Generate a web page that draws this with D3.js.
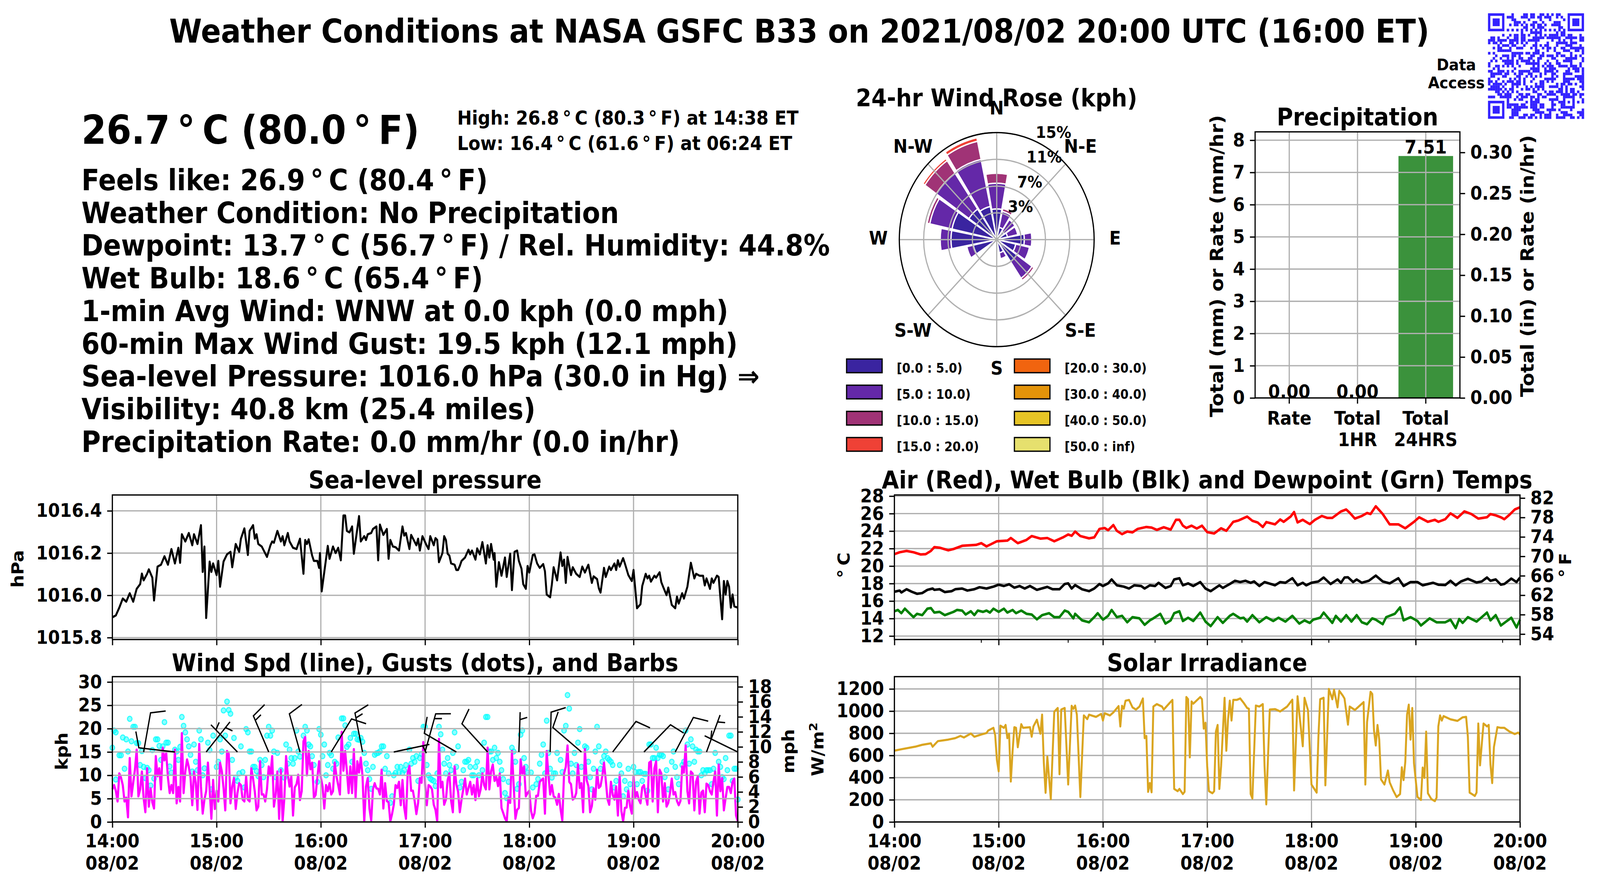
<!DOCTYPE html>
<html>
<head>
<meta charset="utf-8">
<script src="https://cdn.jsdelivr.net/npm/d3@7"></script>
<style>
  html, body { margin: 0; background: #fff; overflow: hidden; }
  text { font-family: "DejaVu Sans"; font-weight: bold; fill: #000; }
</style>
</head>
<body>
<div id="chart"></div>
<script>
// ---- values ----
const infoLines = [
  "Feels like: 26.9\u2009°\u2009C (80.4\u2009°\u2009F)",
  "Weather Condition: No Precipitation",
  "Dewpoint: 13.7\u2009°\u2009C (56.7\u2009°\u2009F) / Rel. Humidity: 44.8%",
  "Wet Bulb: 18.6\u2009°\u2009C (65.4\u2009°\u2009F)",
  "1-min Avg Wind: WNW at 0.0 kph (0.0 mph)",
  "60-min Max Wind Gust: 19.5 kph (12.1 mph)",
  "Sea-level Pressure: 1016.0 hPa (30.0 in Hg) ⇒",
  "Visibility: 40.8 km (25.4 miles)",
  "Precipitation Rate: 0.0 mm/hr (0.0 in/hr)"
];

const hourMinutes = [0, 60, 120, 180, 240, 300, 360];
const hourLabels = ["14:00", "15:00", "16:00", "17:00", "18:00", "19:00", "20:00"];
const tempMinorMinutes = [50, 100, 150, 200, 250, 300, 350];

const pressureTicks = [1015.8, 1016.0, 1016.2, 1016.4];
const windTicks = [0, 5, 10, 15, 20, 25, 30];
const mphTicks = [0, 2, 4, 6, 8, 10, 12, 14, 16, 18];
const tempTicks = [12, 14, 16, 18, 20, 22, 24, 26, 28];
const tempFTicks = [54, 58, 62, 66, 70, 74, 78, 82];
const solarTicks = [0, 200, 400, 600, 800, 1000, 1200];
const precipTicks = [0, 1, 2, 3, 4, 5, 6, 7, 8];
const precipInTicks = [0, 0.05, 0.10, 0.15, 0.20, 0.25, 0.30];

// [minute after 14:00, hPa]
const pressure = [[0,1015.896],[2,1015.905],[4,1015.942],[6,1015.985],[8,1015.97],[10,1016.01],[12,1015.97],[14,1016.031],[16,1016.053],[17,1016.103],[18,1016.071],[20,1016.102],[21,1016.123],[23,1016.084],[24,1015.976],[26,1016.136],[28,1016.145],[30,1016.185],[32,1016.145],[34,1016.219],[36,1016.151],[38,1016.225],[39,1016.154],[40,1016.289],[42,1016.255],[44,1016.295],[46,1016.237],[47,1016.289],[49,1016.243],[51,1016.332],[52,1016.111],[53,1016.231],[54,1015.893],[56,1016.16],[57,1016.111],[58,1016.151],[60,1016.096],[61,1016.163],[62,1016.041],[64,1016.16],[66,1016.194],[68,1016.206],[69,1016.133],[71,1016.243],[73,1016.206],[74,1016.268],[76,1016.317],[78,1016.191],[79,1016.305],[81,1016.332],[82,1016.268],[83,1016.289],[84,1016.243],[86,1016.231],[89,1016.182],[91,1016.237],[92,1016.255],[93,1016.249],[95,1016.305],[97,1016.255],[98,1016.28],[99,1016.237],[101,1016.295],[102,1016.255],[104,1016.225],[106,1016.219],[108,1016.268],[110,1016.102],[111,1016.262],[112,1016.243],[113,1016.265],[115,1016.188],[116,1016.163],[118,1016.163],[119,1016.13],[119.5,1016.2],[120.5,1016.019],[122,1016.111],[124,1016.234],[125,1016.173],[127,1016.231],[128.5,1016.2],[130,1016.225],[131.5,1016.166],[133,1016.378],[134,1016.378],[135,1016.305],[136.5,1016.298],[138,1016.326],[139,1016.197],[142,1016.375],[143,1016.255],[145,1016.28],[146,1016.262],[147,1016.289],[149,1016.295],[150,1016.314],[152,1016.326],[153,1016.166],[154,1016.335],[156,1016.286],[158,1016.314],[159,1016.173],[160,1016.262],[161.5,1016.231],[163,1016.228],[165,1016.212],[167,1016.326],[168,1016.283],[169,1016.295],[171,1016.219],[172,1016.286],[175,1016.237],[176,1016.268],[177,1016.212],[178.5,1016.28],[180.5,1016.243],[182,1016.219],[183,1016.28],[185,1016.237],[186,1016.271],[187,1016.262],[188,1016.157],[190,1016.2],[191,1016.28],[192,1016.262],[193,1016.197],[194,1016.188],[195,1016.151],[197,1016.145],[198,1016.12],[199,1016.12],[200,1016.139],[201,1016.163],[203,1016.179],[205,1016.216],[206,1016.194],[207,1016.212],[209,1016.169],[210,1016.222],[211.5,1016.194],[213,1016.252],[215,1016.151],[216,1016.237],[217,1016.179],[218,1016.243],[219.5,1016.169],[220,1016.2],[221,1016.041],[222.5,1016.157],[224,1016.093],[226,1016.179],[227,1016.087],[229,1016.197],[230,1016.025],[231.5,1016.206],[233,1016.212],[234,1016.163],[235.5,1016.126],[236.5,1016.053],[238,1016.031],[239,1016.139],[240,1016.108],[242,1016.191],[243,1016.194],[244.5,1016.151],[246,1016.13],[248,1016.148],[249,1016.114],[250,1016.004],[252,1015.991],[253,1016.053],[254,1016.133],[256,1016.071],[258,1016.203],[259,1016.139],[260,1016.169],[261,1016.059],[262,1016.182],[264,1016.096],[265,1016.133],[267,1016.102],[269,1016.087],[270.5,1016.136],[272,1016.108],[274,1016.145],[276,1016.059],[277,1016.09],[279,1016.077],[280,1016.034],[281,1016.013],[283,1016.13],[284,1016.087],[286,1016.136],[287,1016.12],[289,1016.151],[290,1016.12],[291,1016.166],[292,1016.136],[294,1016.176],[295,1016.151],[297,1016.096],[299,1016.068],[300,1016.12],[302,1015.939],[304,1015.958],[305,1016.044],[307,1016.102],[308,1016.08],[309,1016.093],[310,1016.065],[312,1016.093],[313,1016.084],[315,1016.109],[316,1016.062],[317,1016.041],[319,1016.001],[320,1016.037],[322,1015.955],[324,1015.939],[325,1015.994],[326,1015.961],[328,1016.01],[329,1015.985],[331,1016.041],[333,1016.154],[335,1016.08],[336,1016.102],[338,1016.093],[340,1016.093],[341,1016.047],[342,1016.08],[344,1016.031],[345,1016.08],[346,1016.059],[348,1016.093],[349,1016.087],[351,1015.887],[352,1016.068],[353,1016.004],[354,1016.068],[355,1016.041],[356,1015.942],[357,1016.004],[358,1015.948],[360,1015.942]];

// [minute, deg C]
const airTemp = [[0,21.36],[3,21.58],[7,21.73],[11,21.58],[15,21.33],[18,21.36],[21,21.73],[23,22.17],[26,22.10],[31,21.80],[34,21.95],[39,22.32],[47,22.42],[50,22.62],[53,22.25],[56,22.54],[59,22.84],[65,22.91],[67,23.21],[71,22.62],[76,22.99],[79,23.43],[84,23.14],[88,23.21],[92,22.84],[97,23.28],[100,23.61],[102,23.46],[104,23.95],[107,23.43],[112,23.17],[115,23.28],[118,24.25],[121,24.35],[123,24.10],[126,24.69],[128,24.03],[131,23.65],[134,23.95],[137,23.85],[140,24.25],[145,24.47],[148,24.40],[151,24.14],[155,24.44],[159,24.17],[162,25.29],[164,25.29],[166,24.62],[168,24.35],[171,24.62],[174,24.29],[177,24.62],[180,23.88],[184,23.73],[188,24.32],[191,24.03],[195,25.06],[198,25.21],[203,25.66],[206,25.18],[209,24.99],[212,24.47],[214,25.03],[219,24.77],[222,25.33],[224,25.06],[228,25.66],[230,26.18],[232,24.99],[235,25.29],[239,24.80],[242,25.29],[246,25.73],[249,25.51],[252,25.51],[257,26.25],[260,26.47],[262,26.10],[265,25.43],[269,25.73],[272,26.07],[274,25.95],[277,26.84],[281,25.95],[285,24.77],[290,24.77],[294,24.32],[299,25.06],[302,25.58],[307,25.06],[311,25.29],[313,25.06],[317,25.36],[320,26.03],[324,25.51],[328,26.25],[332,25.95],[336,25.43],[341,25.58],[343,25.95],[346,25.80],[349,25.58],[351,25.36],[354,25.88],[357,26.47],[360,26.72]];
const wetBulb = [[0,17.06],[3,17.20],[4,16.98],[7,17.35],[10,17.06],[13,16.83],[16,16.91],[19,17.28],[22,17.43],[23,17.28],[26,17.35],[29,17.03],[33,17.13],[35,17.35],[39,17.43],[42,17.20],[46,17.35],[49,17.58],[53,17.43],[57,17.65],[60,17.87],[63,17.72],[66,17.92],[69,17.53],[72,17.72],[75,17.43],[78,17.72],[82,17.28],[88,17.62],[91,17.35],[95,17.35],[98,17.95],[100,18.02],[102,17.43],[104,17.83],[108,17.35],[112,17.13],[115,17.43],[118,17.95],[120,17.72],[123,18.02],[125,18.47],[128,17.80],[132,17.65],[135,17.43],[138,17.80],[142,17.72],[144,17.43],[147,17.80],[150,17.72],[152,18.09],[156,17.50],[159,17.72],[161,18.47],[164,18.61],[166,17.80],[169,18.02],[172,17.72],[176,18.17],[179,17.43],[182,17.13],[187,17.80],[189,17.50],[193,17.95],[196,18.32],[199,18.17],[202,18.32],[205,18.09],[207,18.24],[210,17.72],[213,18.17],[219,17.80],[222,18.17],[225,18.09],[229,18.61],[232,17.80],[235,18.09],[237,17.80],[240,18.09],[244,18.24],[247,18.69],[251,17.95],[255,18.47],[257,18.09],[259,18.69],[261,18.72],[264,18.17],[266,18.47],[269,18.09],[273,18.32],[277,18.91],[281,18.24],[285,18.02],[290,18.61],[293,17.72],[297,18.17],[301,18.17],[304,17.80],[310,18.09],[313,17.87],[317,17.83],[320,18.32],[323,17.80],[326,18.24],[330,18.54],[335,18.12],[338,18.24],[341,18.69],[343,18.32],[346,18.47],[349,17.87],[351,17.95],[355,18.57],[358,18.17],[360,18.69]];
const dewPoint = [[0,14.83],[2,14.98],[4,14.61],[6,15.13],[9,14.54],[11,14.16],[13,14.54],[16,14.39],[19,15.13],[21,15.20],[23,14.68],[26,14.76],[29,14.39],[34,14.76],[36,14.98],[39,14.91],[41,14.46],[44,14.83],[46,14.39],[48,14.91],[51,14.76],[53,14.91],[55,14.68],[57,15.13],[60,14.76],[63,15.13],[65,14.68],[68,14.98],[70,14.61],[73,14.91],[76,14.54],[79,14.46],[82,13.91],[85,14.39],[89,14.61],[92,14.16],[95,14.16],[98,14.91],[100,14.76],[103,14.02],[104,14.54],[108,13.79],[112,13.57],[115,14.16],[117,14.61],[120,13.87],[123,14.31],[125,14.98],[128,14.16],[131,14.31],[134,13.57],[137,14.16],[141,14.02],[144,13.28],[147,13.79],[149,14.02],[153,14.54],[156,13.42],[159,13.79],[161,14.61],[164,14.83],[166,13.72],[169,14.09],[172,13.72],[176,14.68],[179,13.65],[182,13.13],[186,14.16],[189,13.50],[193,14.31],[195,14.54],[199,14.02],[201,14.09],[203,13.65],[206,14.39],[210,13.57],[214,14.16],[218,13.72],[221,14.09],[225,13.65],[229,14.31],[233,13.42],[236,13.79],[239,13.50],[241,13.87],[245,14.09],[247,14.68],[252,13.50],[254,14.31],[257,13.65],[260,14.39],[263,13.65],[266,14.39],[269,13.57],[272,13.35],[275,14.02],[277,13.87],[281,13.35],[283,14.16],[288,14.54],[291,15.28],[293,13.79],[297,14.16],[301,13.72],[303,13.20],[308,14.02],[312,13.57],[317,13.57],[320,13.87],[323,12.90],[325,13.94],[327,13.50],[330,14.16],[335,13.65],[338,14.16],[341,14.68],[343,13.79],[346,14.39],[349,13.20],[352,13.65],[355,14.09],[358,12.98],[360,13.87]];

// [minute, W/m2]
const solar = [[0,643],[4,656],[12,679],[16,696],[21,709],[22,679],[25,729],[31,743],[35,756],[38,776],[40,762],[44,798],[46,769],[50,789],[53,802],[54,825],[57,849],[58,782],[59,557],[60,457],[61,869],[63,849],[64,875],[65,756],[66,796],[67,365],[68,636],[69,855],[70,849],[71,674],[73,882],[74,849],[78,855],[79,769],[80,862],[82,922],[84,796],[85,968],[86,530],[87,263],[88,590],[90,206],[92,995],[94,1028],[95,431],[96,1014],[98,1028],[100,338],[102,1048],[103,1021],[104,1050],[105,968],[107,225],[109,961],[111,928],[112,968],[116,948],[119,975],[120,915],[121,981],[124,961],[126,988],[129,1045],[130,862],[131,1048],[132,1021],[133,1094],[135,1101],[137,1034],[139,1014],[141,1041],[143,1114],[144,756],[145,776],[146,272],[147,351],[148,268],[149,1041],[151,1063],[154,1041],[155,1014],[158,1067],[160,1101],[161,298],[163,278],[164,298],[166,252],[167,272],[168,1127],[169,1107],[170,583],[171,1087],[172,1067],[176,1127],[177,1107],[178,842],[179,895],[180,504],[181,278],[183,259],[184,278],[185,815],[186,875],[187,298],[188,504],[190,1120],[191,643],[192,928],[193,1094],[194,915],[195,1101],[197,1101],[199,1114],[201,1074],[203,1028],[204,1021],[205,252],[206,212],[208,1050],[210,1041],[212,1063],[213,504],[214,159],[216,1014],[219,1018],[222,997],[226,1041],[229,1103],[230,285],[232,1134],[235,683],[236,1120],[238,1008],[240,338],[243,265],[244,769],[245,1107],[247,1120],[248,331],[250,1200],[252,1107],[253,1193],[255,1034],[256,1183],[258,1140],[259,1114],[261,878],[262,1041],[265,1010],[270,1081],[271,338],[272,902],[274,1174],[275,1154],[276,822],[277,690],[278,875],[279,743],[280,385],[282,338],[284,464],[285,358],[287,285],[289,225],[291,252],[292,493],[293,378],[294,544],[295,968],[296,1058],[297,743],[298,1028],[299,530],[301,225],[303,199],[304,491],[305,398],[306,815],[307,259],[309,206],[311,188],[312,219],[313,862],[314,961],[315,915],[316,955],[320,926],[324,912],[327,944],[329,948],[330,769],[331,265],[333,245],[334,235],[335,265],[336,888],[337,511],[339,888],[341,862],[342,875],[343,517],[344,351],[345,676],[347,855],[349,849],[351,849],[354,815],[357,793],[359,806],[360,789]];

// 1-min wind speed in kph, one value per minute from 14:00
const windSpeed = [7.0,7.9,6.7,4.4,10.4,9.5,7.9,4.4,5.2,1.0,13.7,5.5,8.4,11.2,15.5,5.5,7.0,10.8,5.1,2.1,11.5,3.3,7.2,4.2,2.9,14.1,9.8,11.5,7.0,15.9,13.2,14.8,9.5,6.2,7.9,6.2,15.5,4.0,7.5,4.4,19.0,6.2,10.8,13.4,11.8,9.5,3.6,10.8,8.4,2.6,16.7,7.6,1.8,4.8,6.6,12.7,7.0,0.7,9.0,2.8,6.7,4.4,12.7,10.9,7.3,2.5,15.2,14.6,4.0,7.6,9.4,2.8,6.2,8.3,7.9,4.8,4.4,9.8,4.8,4.4,11.5,9.3,6.5,2.5,3.3,13.0,5.9,5.9,4.4,7.0,11.9,10.0,14.1,3.3,5.9,10.8,0.7,11.2,0.1,5.1,14.1,10.1,7.6,9.8,1.4,7.4,8.1,10.1,4.7,6.6,17.3,18.2,10.0,15.2,11.3,12.7,5.2,5.8,9.5,13.0,
  9.5,7.6,2.9,7.9,6.6,8.3,5.9,6.6,12.7,9.8,7.9,5.9,19.3,11.0,15.2,10.9,6.2,11.9,6.2,15.6,5.2,13.0,10.6,13.8,9.8,0.1,7.6,9.4,2.8,0.3,7.0,8.3,7.2,7.1,5.9,11.2,2.9,8.3,4.5,4.2,0.1,1.7,3.7,7.9,7.3,8.6,3.6,9.0,3.1,0.7,10.6,12.0,6.7,6.7,4.5,1.7,4.1,9.4,8.4,17.1,
  8.1,3.6,7.9,7.6,7.0,3.7,2.6,0.1,17.8,7.4,8.6,3.7,4.8,9.0,10.4,4.5,2.1,11.9,8.1,6.5,2.1,4.8,7.0,9.3,5.9,7.3,8.6,5.9,7.9,4.7,9.3,5.5,7.0,10.4,7.9,7.0,15.9,7.0,10.9,12.3,8.8,9.7,7.7,10.4,3.0,1.9,0.8,0.1,5.2,4.1,15.2,7.9,0.7,2.6,3.0,13.4,10.4,11.9,5.5,6.2,
  6.7,2.4,0.8,1.9,5.6,5.6,8.6,9.0,9.3,1.8,15.2,10.1,5.9,7.9,5.5,5.2,3.7,6.0,2.7,0.3,10.4,11.8,16.4,8.6,8.1,4.8,5.1,6.2,12.3,7.3,8.3,2.1,15.6,9.0,7.7,2.1,3.4,7.2,4.8,11.2,7.3,7.7,9.8,12.7,9.0,4.9,3.7,8.6,5.8,4.8,7.6,1.4,10.1,2.3,0.1,3.0,3.1,6.7,3.4,1.8,
  9.8,5.2,6.4,4.8,4.0,7.4,7.9,5.6,3.7,12.7,13.0,4.4,11.5,13.0,2.1,11.2,10.4,4.4,8.3,3.3,4.1,6.2,9.3,5.9,6.4,4.5,3.6,4.5,11.9,10.6,16.4,6.6,4.0,10.8,10.4,2.5,8.6,9.8,1.8,6.3,6.7,2.1,8.2,7.9,6.6,5.9,8.6,10.8,1.4,12.3,6.6,9.4,2.5,5.1,7.5,7.5,6.2,8.6,9.3,1.4,0.1];

// [minute, kph] gust dots
const windGust = [[0,15.9],[1,19.6],[2,19.2],[2,9.1],[4,14.3],[5,14.3],[6,18.1],[7,11.4],[8,17.7],[9,15.1],[10,22.1],[11,17.3],[12,20.4],[13,20.4],[14,16.9],[15,16.9],[16,12.2],[17,15.2],[18,11.8],[19,9.4],[20,11.6],[21,11.1],[22,7.8],[23,15.4],[24,9.3],[25,17.7],[26,17.7],[27,16.3],[28,13.3],[29,16.2],[30,21.4],[31,17.0],[32,17.0],[33,11.9],[34,10.6],[36,15.5],[37,15.1],[38,13.3],[39,16.1],[40,22.5],[41,20.6],[42,19.2],[43,17.7],[44,16.2],[45,14.4],[46,10.8],[47,16.6],[48,12.9],[49,11.1],[50,19.6],[51,17.7],[52,10.0],[53,11.5],[55,17.0],[56,15.4],[57,7.0],[58,18.5],[60,11.8],[61,12.9],[62,17.7],[63,15.1],[64,23.9],[65,18.5],[66,25.8],[67,24.0],[68,23.2],[69,13.3],[70,18.0],[71,9.5],[72,8.8],[73,10.4],[74,16.2],[75,10.7],[76,7.4],[77,19.9],[78,19.2],[79,15.1],[80,15.1],[81,11.8],[82,11.8],[83,10.9],[84,9.8],[85,13.3],[86,12.2],[87,9.6],[88,13.3],[89,18.5],[90,20.4],[91,18.5],[92,19.6],[93,15.1],[94,9.6],[95,14.8],[97,11.1],[99,9.5],[100,16.6],[101,12.5],[102,15.5],[103,13.7],[104,12.5],[105,13.7],[106,19.6],[107,15.1],[108,14.0],[110,18.5],[111,20.4],[112,19.6],[113,16.6],[114,16.2],[115,14.1],[116,12.2],[118,8.6],[119,19.9],[120,18.7],[121,14.1],[122,16.6],[123,10.0],[124,12.2],[125,14.8],[126,14.3],[127,11.4],[128,12.9],[129,12.5],[130,18.1],[132,22.2],[133,22.2],[134,20.7],[135,16.1],[136,16.6],[137,18.0],[138,12.9],[139,18.9],[140,18.9],[141,17.7],[142,17.6],[143,18.0],[144,17.2],[145,14.8],[146,12.5],[147,11.1],[148,9.2],[149,7.1],[150,11.8],[151,14.4],[152,14.7],[153,14.8],[154,15.1],[155,16.2],[156,16.2],[157,11.4],[158,14.1],[159,10.4],[160,4.1],[161,5.5],[162,10.0],[163,10.5],[164,11.8],[165,10.6],[166,11.8],[167,10.5],[168,11.1],[169,12.2],[171,15.5],[172,12.5],[173,13.7],[174,12.9],[175,14.1],[176,8.8],[177,13.7],[178,14.6],[179,20.4],[180,20.4],[181,12.2],[182,10.0],[183,9.3],[184,9.0],[185,8.8],[186,7.7],[187,10.4],[188,20.4],[189,18.8],[190,15.5],[191,12.5],[192,10.4],[193,13.7],[194,12.2],[195,11.1],[196,14.8],[197,19.2],[198,11.8],[199,16.2],[200,7.4],[201,8.6],[202,11.1],[203,12.9],[204,12.9],[205,13.3],[206,11.8],[207,10.0],[208,10.0],[209,11.8],[210,12.9],[211,10.0],[213,11.1],[214,17.0],[215,22.5],[216,22.5],[217,15.1],[218,15.1],[219,13.3],[220,15.9],[221,13.7],[222,14.8],[223,12.9],[224,11.1],[225,9.2],[226,6.2],[227,5.1],[228,8.6],[230,15.9],[231,15.1],[232,12.9],[233,7.1],[234,8.1],[235,18.7],[236,19.6],[237,13.7],[238,11.8],[239,10.6],[241,10.6],[242,7.4],[244,8.1],[245,9.2],[246,12.5],[247,14.4],[248,16.6],[249,10.4],[250,21.7],[251,14.8],[252,11.4],[253,9.5],[254,10.4],[255,10.4],[256,14.8],[258,13.3],[259,10.7],[260,19.6],[261,20.6],[262,27.2],[263,24.3],[264,12.5],[265,10.4],[266,14.8],[267,12.2],[268,17.0],[269,19.9],[270,11.8],[272,16.2],[273,15.9],[274,12.9],[275,9.6],[276,7.0],[277,11.4],[278,15.1],[279,20.4],[280,16.2],[281,11.4],[282,12.9],[283,14.1],[284,15.1],[285,13.7],[286,13.3],[287,12.9],[288,12.2],[289,7.4],[290,8.8],[292,12.2],[293,10.4],[294,5.5],[295,8.8],[296,7.0],[297,11.4],[298,8.1],[300,11.8],[301,10.7],[302,8.1],[303,10.7],[304,10.7],[305,8.8],[306,10.3],[307,10.3],[308,6.7],[309,16.6],[310,16.6],[311,13.7],[312,13.7],[313,15.9],[314,13.7],[315,14.4],[316,14.4],[317,14.1],[318,9.6],[319,11.1],[320,7.0],[322,12.9],[323,15.1],[324,11.8],[325,9.6],[326,8.1],[328,12.2],[329,12.9],[330,19.6],[331,16.6],[332,12.5],[333,17.7],[334,16.2],[335,12.9],[336,15.5],[337,15.1],[338,15.1],[339,10.0],[340,11.1],[341,10.4],[342,11.1],[343,11.1],[344,11.1],[345,8.1],[346,11.4],[347,14.8],[349,12.9],[350,11.8],[351,9.6],[352,9.2],[353,13.7],[354,11.1],[355,18.5],[356,18.5],[357,8.8],[358,11.4],[359,11.4],[360,4.8]];

// wind barbs sit on the 15 kph line, every 18 min
const barbBaseKph = 15;
const barbMinutes = [18,36,54,72,90,108,126,144,162,180,198,216,234,252,270,288,306,324,342,360];
const barbDir = [11,276,41,313,335,343,34,348,79,17,298,315,2,1.5,308,40,47,30,22,294];
const barbFull = [1,1,0,0,1,1,1,1,0,1,1,1,0,1,1,1,1,1,0,0];
const barbHalf = [0,0,1,1,1,0,0,1,1,1,0,0,1,0,0,0,0,0,1,1];

// wind rose, percent of time per direction sector and speed bin
const roseDirs = d3.range(0, 360, 22.5);
const rose0to5 =    [4.3,1.75,1.4,1.7,4.25,3.0,3.75,1.9,0.8,0,1.3,3.7,7.05,7.05,5.2,4.75];
const rose5to10 =   [3.6,2.3,2.0,1.6,1.15,2.15,2.85,0.85,0.1,0,0.15,1.0,1.65,3.5,6.1,6.75];
const rose10to15 =  [1.4,0.4,0,0,0,0,0.35,0,0,0,0,0,0,0.4,2.15,2.6];
const rose15to20 =  [0,0,0,0,0,0,0,0,0,0,0,0,0,0,0.35,0.5];
const roseCompass = ["N", "N-E", "E", "S-E", "S", "S-W", "W", "N-W"];
const roseRingValues = [3.75, 7.5, 11.25, 15];
const roseRingLabels = ["3%", "7%", "11%", "15%"];
const roseLegendLabels = ["[0.0 : 5.0)", "[5.0 : 10.0)", "[10.0 : 15.0)", "[15.0 : 20.0)",
                          "[20.0 : 30.0)", "[30.0 : 40.0)", "[40.0 : 50.0)", "[50.0 : inf)"];
const roseColors = ["#3a24a0", "#6428a8", "#a03376", "#ef4136", "#f1640f", "#e3930a", "#e6c426", "#e6e06e"];

const precipCats = ["Rate", "Total 1HR", "Total 24HRS"];
const precipCatLines = [["Rate"], ["Total", "1HR"], ["Total", "24HRS"]];
const precipValues = [0, 0, 7.51];

// dark QR modules per row, the finder squares are added below
const qrRows = [
  [10,15,16,18,19,22,23,25,27,29,30],[8,9,10,14,15,16,18,19,21,22,24,25,26,29,31],[10,11,17,22,26,32],[11,12,13,15,19,20,23,28,29,30],
  [9,11,12,14,16,18,19,21,22,24,27,28,29,30],[15,16,19,21,22,23,30,31],[8,10,12,14,16,18,20,22,24,26,28,30,32],[14,18,19,20,21,22,29,31,32],
  [6,9,11,12,14,15,17,20,22,24,26,27,28,29,31,32,34,35,39],[1,2,4,8,11,12,14,15,19,20,21,22,23,25,26,27,28,29,30,33,34,35,36,37,39,40],
  [0,1,2,4,5,6,7,9,10,11,12,14,15,17,18,19,20,21,27,30,32,35,39,40],[0,2,3,5,9,10,12,14,16,20,25,29,30,31,32,33,35,36,37],
  [4,6,7,8,10,11,15,19,20,22,24,25,29,33,34,35,39],[2,4,5,9,12,13,14,18,20,23,25,26,28,31,32,35,36,37,38,39,40],
  [4,5,6,7,8,9,20,21,25,28,32,33,34,37,38,40],[0,2,10,11,12,13,14,16,17,19,20,21,23,29,30,35,40],
  [3,6,7,8,10,11,13,18,19,22,23,25,26,27,29,31,32,35,37,39],[2,5,8,10,13,14,17,18,21,22,27,28,33,34,35,36,37,40],
  [1,3,6,7,8,9,10,12,14,15,16,17,19,21,25,29,32,33,34,35,40],[0,7,8,9,10,12,16,17,18,19,20,21,24,26,29,30,35,39],
  [0,3,4,6,8,10,13,19,21,23,25,26,27,30,31,32,33,35,36,37,39],[2,4,11,18,19,20,21,24,26,27,28,34,36,37,38,40],
  [0,1,4,5,6,8,10,13,14,15,16,17,19,20,21,24,25,26,27,29,33,34,37,38,40],[1,2,3,4,5,7,8,11,13,14,17,18,22,24,27,28,32,33,34,35,40],
  [1,2,6,7,12,13,16,18,20,22,27,29,32,37,38,39,40],[0,4,9,11,13,15,19,24,25,26,27,28,32,33,34,35,36,38,39,40],
  [0,1,3,6,8,9,10,12,13,15,18,22,23,25,27,32,33,34,39,40],[0,2,3,4,5,7,10,11,12,13,15,20,22,23,29,31,32,34,35,37,40],
  [1,2,3,4,6,10,12,16,18,20,21,22,23,26,27,28,29,31,33,39,40],[0,1,2,3,4,5,7,9,10,14,16,17,19,21,23,30,31,33,35,36,40],
  [3,4,6,8,10,12,19,20,24,26,27,29,30,31,33,35,36,38],[4,5,7,8,9,13,14,16,17,21,22,25,26,27,28,31,32,33,34,36,37,39,40],
  [0,1,2,5,6,7,8,9,12,14,15,16,18,19,21,23,24,29,32,33,34,35,36,39],[8,11,13,14,18,20,21,26,27,28,29,32,36,40],
  [8,16,18,19,20,21,27,30,31,32,34,36,38,40],[8,9,10,11,12,14,15,18,19,20,22,23,27,28,31,32,36],
  [8,9,11,12,13,14,15,16,18,19,20,22,23,27,31,32,33,34,35,36],[10,11,12,13,19,20,21,25,26,27,28,30,35,40],
  [10,11,12,20,21,22,23,26,31,32,33,38,39,40],[10,11,12,15,16,18,19,22,24,25,26,29,32,33,34,35,39,40],
  [9,10,13,14,15,17,18,20,22,24,25,26,29,30,31,32,35,36,38,40]
];
const qrFinders = [[0, 0], [34, 0], [0, 34]];

// ---- layout ----
const GRID = "#b0b0b0";
const LW = 3.33;
const TICK = 14.6;
const TICK_FONT = 48;
const TITLE_FONT = 62.5;
const LEFT = { x0: 316, x1: 2075 };
const RIGHT = { x0: 2515.5, x1: 4275 };
const UPPER = { top: 1267, bottom: 1637 };
const LOWER = { top: 1732, bottom: 2104 };

// the drawing is laid out in 4500x2250 units and fills the window
const svg = d3.select("#chart").append("svg")
  .attr("viewBox", "0 0 4500 2250")
  .attr("preserveAspectRatio", "none")
  .style("width", "100vw")
  .style("height", "100vh")
  .style("display", "block");

svg.append("rect").attr("width", 4500).attr("height", 2250).attr("fill", "#fff");

function addText(x, y, str, size, anchor = "middle", rotate = false) {
  const t = svg.append("text")
    .attr("font-size", size)
    .attr("text-anchor", anchor)
    .text(str);
  if (rotate) t.attr("transform", `translate(${x},${y}) rotate(-90)`);
  else t.attr("x", x).attr("y", y);
  return t;
}

function styleAxis(g) {
  g.select(".domain").remove();
  g.selectAll("line").attr("stroke", "#000").attr("stroke-width", LW);
  g.selectAll("text").attr("font-size", TICK_FONT).attr("fill", "#000")
    .style("font-family", '"DejaVu Sans"').style("font-weight", "bold");
}

function drawGrid(g, x, y, xVals, yVals) {
  g.selectAll(null).data(xVals).enter().append("line")
    .attr("x1", d => x(d)).attr("x2", d => x(d))
    .attr("y1", y.range()[0]).attr("y2", y.range()[1])
    .attr("stroke", GRID).attr("stroke-width", LW);
  g.selectAll(null).data(yVals).enter().append("line")
    .attr("x1", x.range()[0]).attr("x2", x.range()[1])
    .attr("y1", d => y(d)).attr("y2", d => y(d))
    .attr("stroke", GRID).attr("stroke-width", LW);
}

function drawFrame(g, x, y) {
  g.append("rect")
    .attr("x", x.range()[0]).attr("y", y.range()[1])
    .attr("width", x.range()[1] - x.range()[0])
    .attr("height", y.range()[0] - y.range()[1])
    .attr("fill", "none").attr("stroke", "#000").attr("stroke-width", LW);
}

function drawLine(g, data, x, y, color, width = 5.5) {
  const line = d3.line().x(d => x(d[0])).y(d => y(d[1]));
  g.append("path").attr("d", line(data))
    .attr("fill", "none").attr("stroke", color)
    .attr("stroke-width", width).attr("stroke-linejoin", "round");
}

function leftAxis(y, x0, ticks, fmt) {
  svg.append("g").attr("transform", `translate(${x0},0)`)
    .call(d3.axisLeft(y).tickValues(ticks).tickSize(TICK).tickPadding(TICK).tickFormat(fmt))
    .call(styleAxis);
}

function rightAxis(y, x1, ticks, fmt) {
  svg.append("g").attr("transform", `translate(${x1},0)`)
    .call(d3.axisRight(y).tickValues(ticks).tickSize(TICK).tickPadding(TICK).tickFormat(fmt))
    .call(styleAxis);
}

function bottomAxis(x, yBottom, labels) {
  svg.append("g").attr("transform", `translate(0,${yBottom})`)
    .call(d3.axisBottom(x).tickValues(hourMinutes).tickSize(TICK).tickFormat(""))
    .call(styleAxis);
  if (!labels) return;
  hourMinutes.forEach((m, i) => {
    addText(x(m), yBottom + 64.6, hourLabels[i], TICK_FONT);
    addText(x(m), yBottom + 122, "08/02", TICK_FONT);
  });
}

// ---- header text ----
addText(2248, 109, "Weather Conditions at NASA GSFC B33 on 2021/08/02 20:00 UTC (16:00 ET)", 83.3);
addText(229, 368, "26.7\u2009°\u2009C (80.0\u2009°\u2009F)", 101, "start");
addText(1286, 319, "High: 26.8\u2009°\u2009C (80.3\u2009°\u2009F) at 14:38 ET", 49.2, "start");
addText(1286, 384, "Low: 16.4\u2009°\u2009C (61.6\u2009°\u2009F) at 06:24 ET", 49.2, "start");
infoLines.forEach((s, i) => addText(229, 487 + i * 83.75, s, 74, "start"));

// ---- QR code ----
const qrStep = 6.587;
const qrX = d3.scaleLinear().domain([0, 41]).range([4185, 4185 + 41 * qrStep]);
const qrY = d3.scaleLinear().domain([0, 41]).range([34, 34 + 41 * qrStep]);
const qr = svg.append("g").attr("fill", "#3322ff");
qrRows.forEach((cols, r) => {
  cols.forEach(c => {
    qr.append("rect").attr("x", qrX(c)).attr("y", qrY(r))
      .attr("width", qrStep + 0.3).attr("height", qrStep + 0.3);
  });
});
qrFinders.forEach(([c, r]) => {
  qr.append("rect").attr("x", qrX(c) + qrStep / 2).attr("y", qrY(r) + qrStep / 2)
    .attr("width", 6 * qrStep).attr("height", 6 * qrStep)
    .attr("fill", "none").attr("stroke", "#3322ff").attr("stroke-width", qrStep);
  qr.append("rect").attr("x", qrX(c + 2)).attr("y", qrY(r + 2))
    .attr("width", 3 * qrStep).attr("height", 3 * qrStep);
});
addText(4096, 180, "Data", 41.7);
addText(4096, 226.5, "Access", 41.7);

// ---- wind rose ----
const roseCx = 2803.3, roseCy = 613.3;
const roseR = d3.scaleLinear().domain([0, 15]).range([0, 274]);
const rose = svg.append("g").attr("transform", `translate(${roseCx},${roseCy})`);
const roseSeries = [rose0to5, rose5to10, rose10to15, rose15to20];
const rad = d => d * Math.PI / 180;

roseDirs.forEach((dir, i) => {
  let base = 0;
  roseSeries.forEach((series, s) => {
    const v = series[i];
    if (v <= 0) return;
    rose.append("path")
      .attr("d", d3.arc()({
        innerRadius: roseR(base),
        outerRadius: roseR(base + v),
        startAngle: rad(dir - 10.4),
        endAngle: rad(dir + 10.4)
      }))
      .attr("fill", roseColors[s])
      .attr("stroke", "#fff")
      .attr("stroke-width", 3.5);
    base += v;
  });
});

roseRingValues.forEach(v => {
  rose.append("circle").attr("r", roseR(v))
    .attr("fill", "none").attr("stroke", GRID).attr("stroke-width", LW);
});
d3.range(0, 360, 45).forEach(a => {
  rose.append("line")
    .attr("x2", roseR(15) * Math.sin(rad(a)))
    .attr("y2", -roseR(15) * Math.cos(rad(a)))
    .attr("stroke", GRID).attr("stroke-width", LW);
});
rose.append("circle").attr("r", roseR(15))
  .attr("fill", "none").attr("stroke", "#000").attr("stroke-width", LW);

roseRingValues.forEach((v, i) => {
  addText(roseCx + roseR(v) * Math.sin(rad(22.5)) + 5,
          roseCy - roseR(v) * Math.cos(rad(22.5)) - 7,
          roseRingLabels[i], 41.7, "start");
});

const compassLabelR = 333;
roseCompass.forEach((s, i) => {
  const a = rad(i * 45);
  addText(roseCx + compassLabelR * Math.sin(a), roseCy - compassLabelR * Math.cos(a) + 13, s, 48);
});
addText(2803, 272, "24-hr Wind Rose (kph)", TITLE_FONT);

roseLegendLabels.forEach((s, i) => {
  const col = i < 4 ? 0 : 1;
  const row = i % 4;
  svg.append("rect")
    .attr("x", col ? 2853 : 2381).attr("y", 919 + row * 67)
    .attr("width", 100).attr("height", 35)
    .attr("fill", roseColors[i]).attr("stroke", "#000").attr("stroke-width", LW);
  addText(col ? 2994 : 2522, 954 + row * 67, s, 33.3, "start");
});

// ---- precipitation ----
const precipX = d3.scaleBand().domain(precipCats).range([3530, 4106]).paddingInner(0.2).paddingOuter(0.1);
const precipY = d3.scaleLinear().domain([0, 8.26]).range([1018.6, 337.5]);
const precipYIn = d3.scaleLinear().domain([0, 8.26 / 25.4]).range([1018.6, 337.5]);
const precipMid = c => precipX(c) + precipX.bandwidth() / 2;
const precipCenterScale = Object.assign(c => precipMid(c), { range: () => [3530, 4106] });
const pg = svg.append("g");

pg.selectAll("rect.bar").data(precipValues).enter().append("rect")
  .attr("class", "bar")
  .attr("x", (d, i) => precipX(precipCats[i]))
  .attr("width", precipX.bandwidth())
  .attr("y", d => precipY(d))
  .attr("height", d => precipY(0) - precipY(d))
  .attr("fill", "#3b923c");
drawGrid(pg, precipCenterScale, precipY, precipCats, precipTicks);
drawFrame(pg, precipCenterScale, precipY);
leftAxis(precipY, 3530, precipTicks, d3.format("d"));
rightAxis(precipYIn, 4106, precipInTicks, d3.format(".2f"));
precipCats.forEach((c, i) => {
  pg.append("line")
    .attr("x1", precipMid(c)).attr("x2", precipMid(c))
    .attr("y1", 1018.6).attr("y2", 1018.6 + TICK)
    .attr("stroke", "#000").attr("stroke-width", LW);
  addText(precipMid(c), precipY(precipValues[i]) - (precipValues[i] > 0 ? 6 : 0), precipValues[i].toFixed(2), TICK_FONT);
  precipCatLines[i].forEach((s, k) => addText(precipMid(c), 1087 + k * 55, s, TICK_FONT));
});
addText(3818, 321, "Precipitation", TITLE_FONT);
addText(3440, 681, "Total (mm) or Rate (mm/hr)", 50, "middle", true);
addText(4313, 681, "Total (in) or Rate (in/hr)", 50, "middle", true);

// ---- sea-level pressure ----
const xL = d3.scaleLinear().domain([0, 360]).range([LEFT.x0, LEFT.x1]);
const xR = d3.scaleLinear().domain([0, 360]).range([RIGHT.x0, RIGHT.x1]);

const pY = d3.scaleLinear().domain([1015.791, 1016.475]).range([UPPER.bottom, UPPER.top]);
const pG = svg.append("g");
drawGrid(pG, xL, pY, hourMinutes, pressureTicks);
drawLine(pG, pressure, xL, pY, "#000");
drawFrame(pG, xL, pY);
leftAxis(pY, LEFT.x0, pressureTicks, d3.format(".1f"));
bottomAxis(xL, UPPER.bottom, false);
addText(1195.5, 1249.7, "Sea-level pressure", TITLE_FONT);
addText(66, 1456, "hPa", 46, "middle", true);

// ---- wind ----
const wY = d3.scaleLinear().domain([0, 31.15]).range([LOWER.bottom, LOWER.top]);
const wYMph = d3.scaleLinear().domain([0, 31.15 * 0.6214]).range([LOWER.bottom, LOWER.top]);
const wG = svg.append("g");
wG.selectAll("circle").data(windGust).enter().append("circle")
  .attr("cx", d => xL(d[0]))
  .attr("cy", d => wY(d[1]))
  .attr("r", 6.5)
  .attr("fill", "cyan").attr("fill-opacity", 0.45)
  .attr("stroke", "cyan").attr("stroke-opacity", 0.75).attr("stroke-width", 3);
drawLine(wG, windSpeed.map((v, m) => [m, v]), xL, wY, "#ff00ff", 6);
drawGrid(wG, xL, wY, hourMinutes, windTicks);

// barb shaft points toward the wind direction, feathers on the clockwise side
const barbLen = 102;
barbMinutes.forEach((m, i) => {
  const a = rad(barbDir[i]);
  const ux = Math.sin(a), uy = -Math.cos(a);
  const px = Math.cos(a), py = Math.sin(a);
  const bx = xL(m), by = wY(barbBaseKph);
  const tx = bx + barbLen * ux, ty = by + barbLen * uy;
  const path = d3.path();
  path.moveTo(bx, by);
  path.lineTo(tx, ty);
  let off = 0;
  if (barbFull[i]) {
    path.lineTo(tx + 0.4 * barbLen * px + 0.125 * barbLen * ux, ty + 0.4 * barbLen * py + 0.125 * barbLen * uy);
    off = 0.125 * barbLen;
  } else {
    off = 0.1875 * barbLen;
  }
  if (barbHalf[i]) {
    const sx = tx - off * ux, sy = ty - off * uy;
    path.moveTo(sx, sy);
    path.lineTo(sx + 0.2 * barbLen * px + 0.0625 * barbLen * ux, sy + 0.2 * barbLen * py + 0.0625 * barbLen * uy);
  }
  wG.append("path").attr("d", path.toString())
    .attr("fill", "none").attr("stroke", "#000").attr("stroke-width", 3.6);
});
drawFrame(wG, xL, wY);
leftAxis(wY, LEFT.x0, windTicks, d3.format("d"));
rightAxis(wYMph, LEFT.x1, mphTicks, d3.format("d"));
bottomAxis(xL, LOWER.bottom, true);
addText(1195.5, 1718, "Wind Spd (line), Gusts (dots), and Barbs", TITLE_FONT);
addText(190, 1923, "kph", 46, "middle", true);
addText(2234, 1923, "mph", 46, "middle", true);

// ---- temperatures ----
const tY = d3.scaleLinear().domain([11.6, 28.13]).range([UPPER.bottom, UPPER.top]);
const tYF = d3.scaleLinear().domain([11.6 * 1.8 + 32, 28.13 * 1.8 + 32]).range([UPPER.bottom, UPPER.top]);
const tG = svg.append("g");
drawGrid(tG, xR, tY, hourMinutes, tempTicks);
drawLine(tG, airTemp, xR, tY, "#ff0000", 6.5);
drawLine(tG, wetBulb, xR, tY, "#000", 6.5);
drawLine(tG, dewPoint, xR, tY, "#008000", 6.5);
drawFrame(tG, xR, tY);
leftAxis(tY, RIGHT.x0, tempTicks, d3.format("d"));
rightAxis(tYF, RIGHT.x1, tempFTicks, d3.format("d"));
bottomAxis(xR, UPPER.bottom, false);
tG.selectAll(null).data(tempMinorMinutes).enter().append("line")
  .attr("x1", d => xR(d)).attr("x2", d => xR(d))
  .attr("y1", UPPER.bottom).attr("y2", UPPER.bottom + 8.3)
  .attr("stroke", "#000").attr("stroke-width", 2.5);
addText(3395, 1249.7, "Air (Red), Wet Bulb (Blk) and Dewpoint (Grn) Temps", TITLE_FONT);
addText(2389, 1447, "°\u2009C", 46, "middle", true);
addText(4419, 1447, "°\u2009F", 46, "middle", true);

// ---- solar ----
const sY = d3.scaleLinear().domain([0, 1311]).range([LOWER.bottom, LOWER.top]);
const sG = svg.append("g");
drawGrid(sG, xR, sY, hourMinutes, solarTicks);
drawLine(sG, solar, xR, sY, "#daa520");
drawFrame(sG, xR, sY);
leftAxis(sY, RIGHT.x0, solarTicks, d3.format("d"));
bottomAxis(xR, LOWER.bottom, true);
addText(3395, 1718, "Solar Irradiance", TITLE_FONT);
const wm2 = addText(2316, 1918, "W/m", 46, "middle", true);
wm2.append("tspan").attr("dy", -18).attr("font-size", 32).text("2");
</script>
</body>
</html>
